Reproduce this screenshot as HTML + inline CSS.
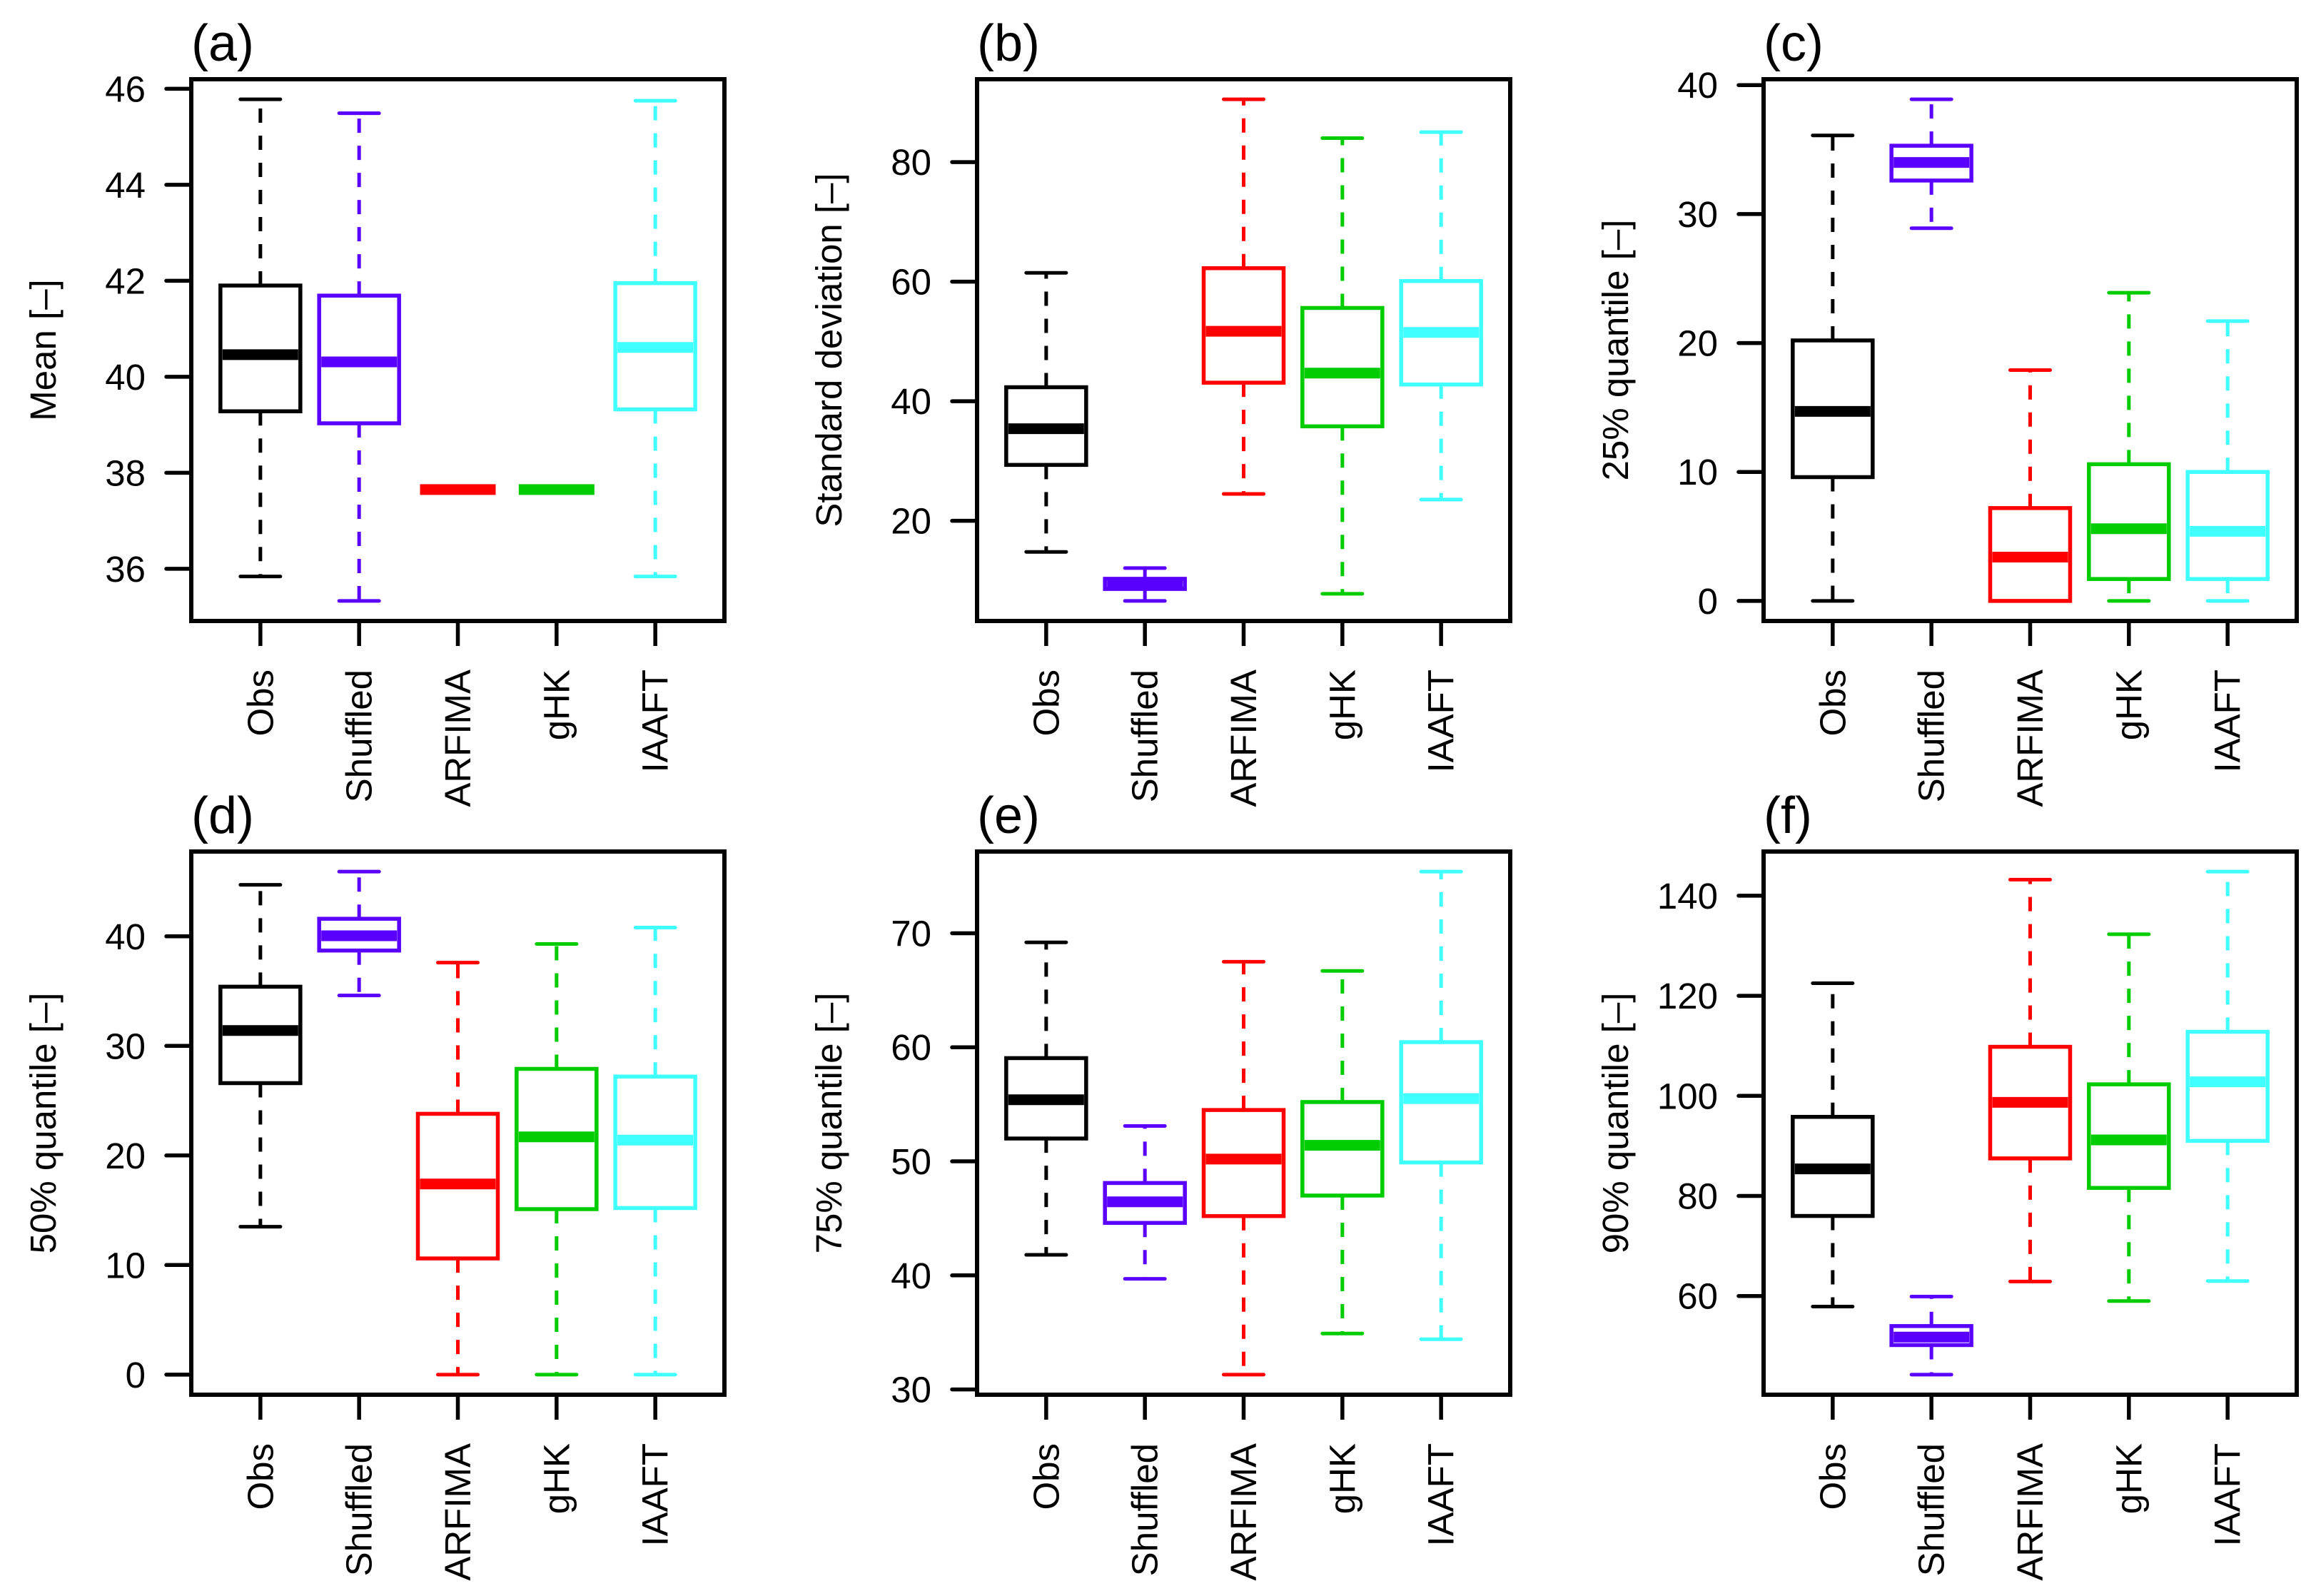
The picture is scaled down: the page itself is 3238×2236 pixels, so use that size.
<!DOCTYPE html>
<html><head><meta charset="utf-8">
<style>
html,body{margin:0;padding:0;background:#fff;}
svg{display:block;}
text{font-family:"Liberation Sans",Arial,sans-serif;fill:#000;}
</style></head>
<body>
<svg id="fig" width="3238" height="2236" viewBox="0 0 3238 2236" xmlns="http://www.w3.org/2000/svg"></svg>
<script>
// Categories and colors
const categories = ["Obs","Shuffled","ARFIMA","gHK","IAAFT"];
const colors = ["#000000","#5a00ff","#ff0000","#00cc00","#40ffff"];

const panelLetters = ["(a)","(b)","(c)","(d)","(e)","(f)"];
const panelYTitles = ["Mean [\u2013]","Standard deviation [\u2013]","25% quantile [\u2013]","50% quantile [\u2013]","75% quantile [\u2013]","90% quantile [\u2013]"];

// Each series: [lowWhisker, q1, median, q3, highWhisker] per category
const statsA = [[35.84,39.28,40.46,41.9,45.78],[35.33,39.03,40.31,41.69,45.49],[37.65,37.65,37.65,37.65,37.65],[37.65,37.65,37.65,37.65,37.65],[35.84,39.32,40.61,41.95,45.75]];
const statsB = [[14.8,29.35,35.4,42.34,61.47],[6.6,8.6,9.4,10.3,12.1],[24.5,43.1,51.7,62.25,90.5],[7.8,35.8,44.7,55.6,84],[23.55,42.8,51.5,60.1,85]];
const statsC = [[0,9.6,14.7,20.2,36.1],[28.9,32.6,34.0,35.3,38.9],[0,0,3.4,7.2,17.9],[0,1.7,5.6,10.6,23.9],[0,1.7,5.4,10.0,21.7]];
const statsD = [[13.5,26.6,31.4,35.4,44.7],[34.6,38.7,40.05,41.6,45.9],[0,10.6,17.4,23.8,37.6],[0,15.1,21.7,27.9,39.3],[0,15.2,21.4,27.2,40.8]];
const statsE = [[41.8,52.0,55.4,59.05,69.2],[39.7,44.6,46.45,48.1,53.1],[31.3,45.2,50.2,54.5,67.5],[34.9,47.0,51.4,55.2,66.7],[34.4,49.9,55.5,60.45,75.4]];
const statsF = [[57.9,76.0,85.4,95.8,122.5],[44.3,50.2,51.8,54.0,59.9],[62.9,87.5,98.7,109.8,143.2],[59.0,81.6,91.2,102.3,132.3],[63.0,91.0,102.8,112.8,144.8]];

const ticksA = [36,38,40,42,44,46];
const ticksB = [20,40,60,80];
const ticksC = [0,10,20,30,40];
const ticksD = [0,10,20,30,40];
const ticksE = [30,40,50,60,70];
const ticksF = [60,80,100,120,140];

const allStats = [statsA,statsB,statsC,statsD,statsE,statsF];
const allTicks = [ticksA,ticksB,ticksC,ticksD,ticksE,ticksF];

const NS = "http://www.w3.org/2000/svg";
const svg = document.getElementById("fig");
function mk(tag, attrs, parent){
  const e = document.createElementNS(NS, tag);
  for (const k in attrs) e.setAttribute(k, attrs[k]);
  (parent||svg).appendChild(e);
  return e;
}

const colX = [268, 1369, 2471];
const rowY = [[111,870],[1193,1954]];
const PW = 747;
const FS = 51;

allStats.forEach((stats, p) => {
  const x0 = colX[p % 3], x1 = x0 + PW;
  const y0 = rowY[Math.floor(p/3)][0], y1 = rowY[Math.floor(p/3)][1];
  const g = mk("g", {});
  
  

  let mn = Infinity, mx = -Infinity;
  stats.forEach(s => { mn = Math.min(mn, s[0]); mx = Math.max(mx, s[4]); });
  const ext = (mx - mn) * 0.04;
  const lo = mn - ext, hi = mx + ext;
  const yS = v => y1 - (v - lo) / (hi - lo) * (y1 - y0);
  const unit = PW / 5.4;
  const xS = i => x0 + (i + 1 - 0.3) * unit;

  allTicks[p].forEach(t => {
    const y = yS(t);
    const tl = mk("line", {x1:x0-35, x2:x0, y1:y, y2:y, stroke:"#000","stroke-width":5.5,"stroke-linecap":"round"}, g);
    
    
    const tx = mk("text", {x:x0-64, y:y+18, "text-anchor":"end","font-size":FS}, g);
    tx.textContent = t;
    
    
  });

  const yc = (y0 + y1) / 2, xt = x0 - 190;
  const yt = mk("text", {x:xt, y:yc, "text-anchor":"middle","font-size":FS, transform:`rotate(-90 ${xt} ${yc})`}, g);
  yt.textContent = panelYTitles[p];
  
  

  const pl = mk("text", {x:x0, y:y0-26, "font-size":72}, g);
  pl.textContent = panelLetters[p];
  
  

  stats.forEach((s, i) => {
    const cx = xS(i), c = colors[i];
    const bg = mk("g", {}, g);
    
    
    const hw = 56, cw = 28;
    mk("line", {x1:cx, x2:cx, y1:yS(s[3]), y2:yS(s[4]), stroke:c, "stroke-width":5, "stroke-dasharray":"20 18"}, bg);
    mk("line", {x1:cx, x2:cx, y1:yS(s[1]), y2:yS(s[0]), stroke:c, "stroke-width":5, "stroke-dasharray":"20 18"}, bg);
    mk("line", {x1:cx-cw, x2:cx+cw, y1:yS(s[4]), y2:yS(s[4]), stroke:c, "stroke-width":5, "stroke-linecap":"round"}, bg);
    mk("line", {x1:cx-cw, x2:cx+cw, y1:yS(s[0]), y2:yS(s[0]), stroke:c, "stroke-width":5, "stroke-linecap":"round"}, bg);
    mk("rect", {x:cx-hw, y:yS(s[3]), width:2*hw, height:Math.max(0, yS(s[1])-yS(s[3])), fill:"#fff", stroke:c, "stroke-width":5.5}, bg);
    mk("line", {x1:cx-hw+3, x2:cx+hw-3, y1:yS(s[2]), y2:yS(s[2]), stroke:c, "stroke-width":15}, bg);

    const xt2 = mk("line", {x1:cx, x2:cx, y1:y1, y2:y1+35, stroke:"#000", "stroke-width":5.5}, g);
    
    
    const ly = y1 + 68;
    const lab = mk("text", {x:cx, y:ly, "text-anchor":"end", "font-size":FS, "dominant-baseline":"central", transform:`rotate(-90 ${cx} ${ly})`}, g);
    lab.textContent = categories[i];
    
    
  });

  const fr = mk("rect", {x:x0, y:y0, width:PW, height:y1-y0, fill:"none", stroke:"#000", "stroke-width":6}, g);
  
  
});
</script>
</body></html>
